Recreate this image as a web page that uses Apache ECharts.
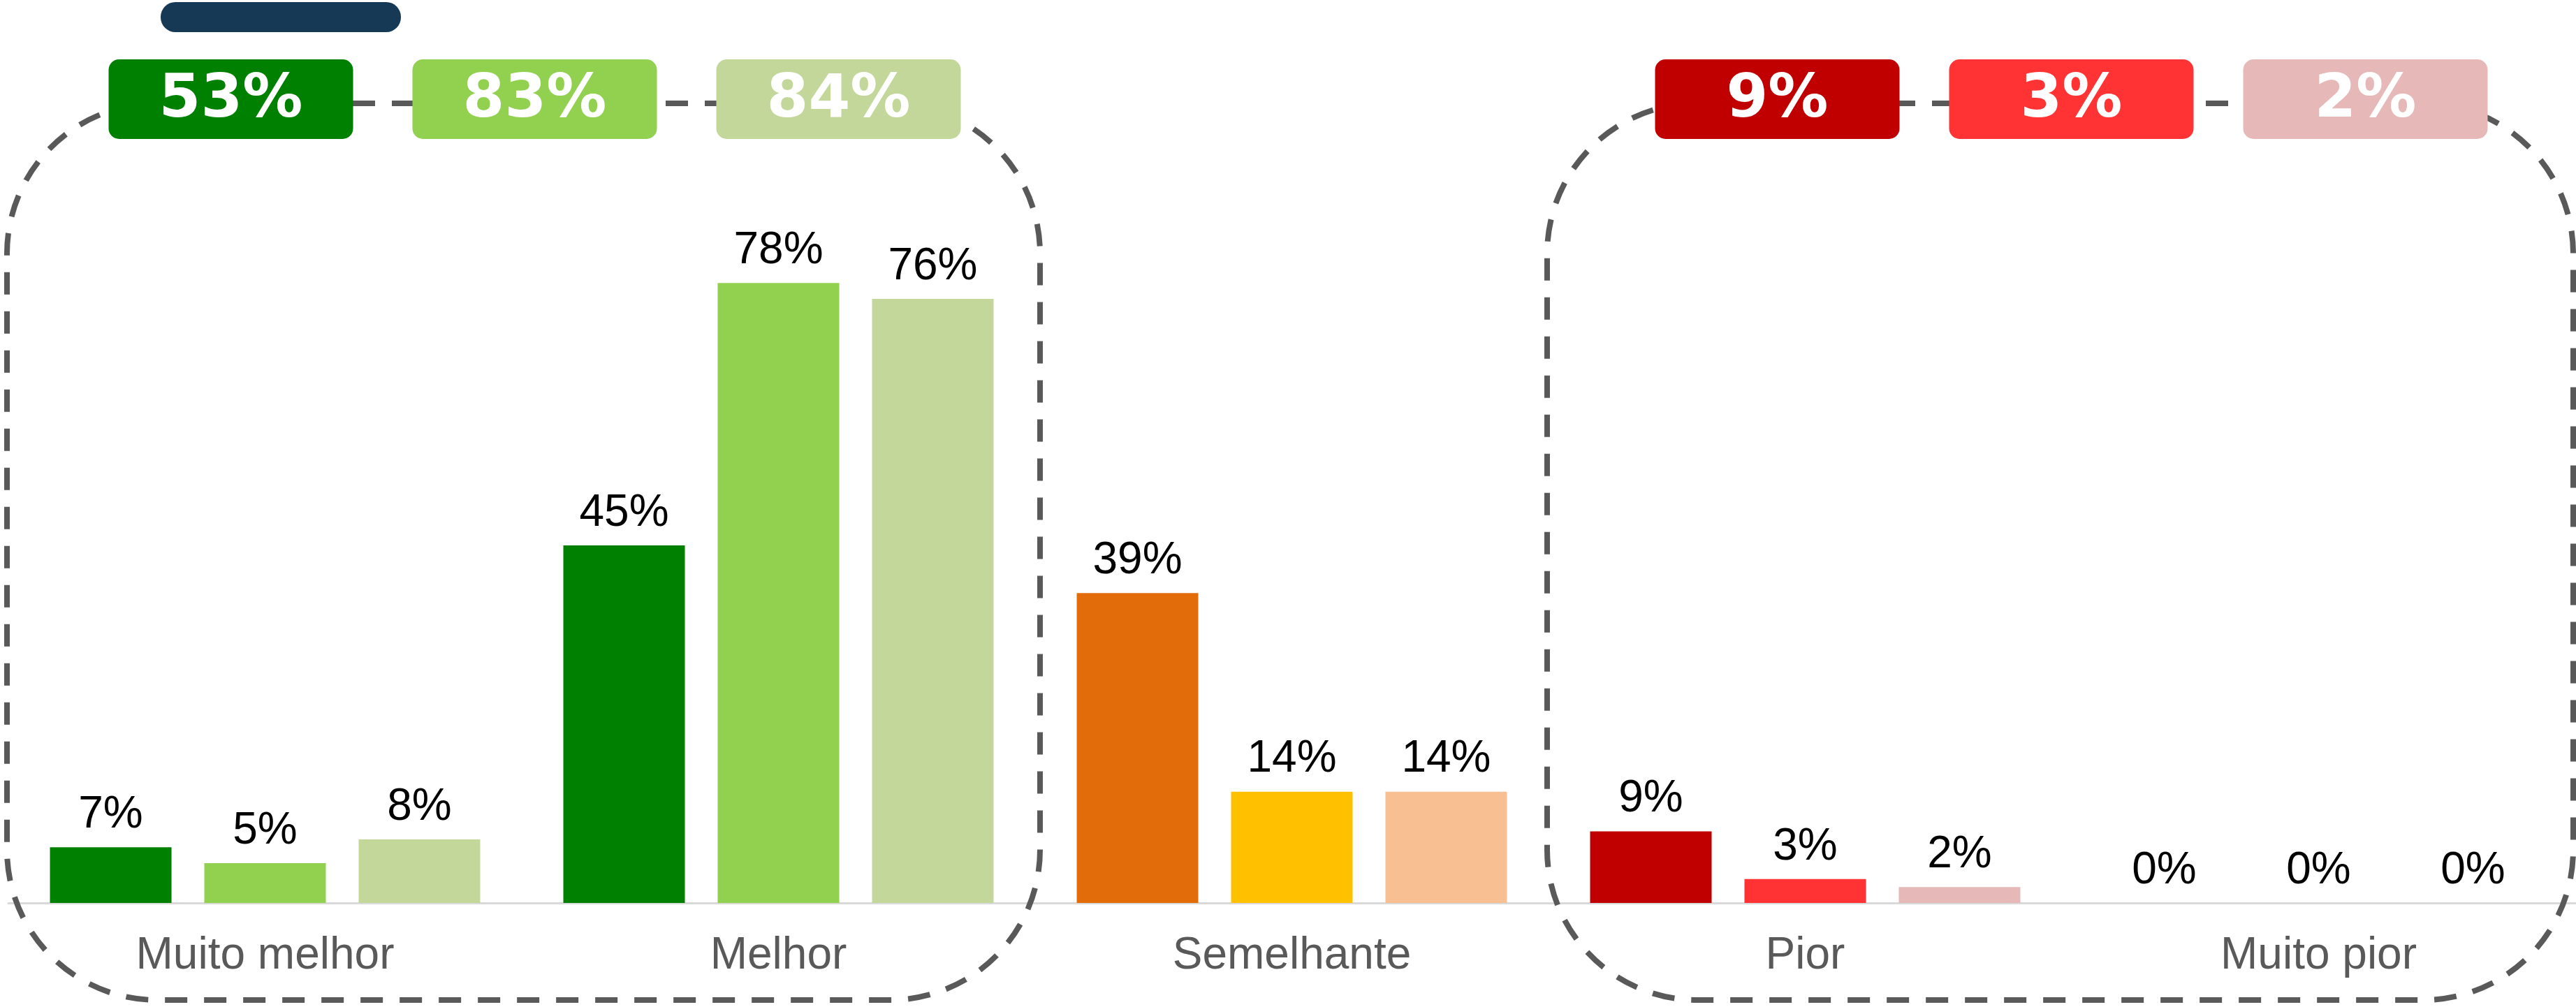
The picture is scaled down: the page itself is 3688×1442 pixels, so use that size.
<!DOCTYPE html>
<html>
<head>
<meta charset="utf-8">
<title>Comparação</title>
<script src="https://cdn.jsdelivr.net/npm/echarts@6/dist/echarts.min.js"></script>
<style>
  html, body { margin: 0; padding: 0; background: #ffffff; }
  #chart { width: 3688px; height: 1442px; }
</style>
</head>
<body>
<div id="chart"></div>
<script>
// categorias e valores (%)
const categories = ['Muito melhor', 'Melhor', 'Semelhante', 'Pior', 'Muito pior']
const serieA = [7, 45, 39, 9, 0]
const serieB = [5, 78, 14, 3, 0]
const serieC = [8, 76, 14, 2, 0]

// cores por categoria em cada série
const colorsA = ['#008000', '#008000', '#E36C0A', '#C00000', '#C00000']
const colorsB = ['#92D050', '#92D050', '#FFC000', '#FF3333', '#FF3333']
const colorsC = ['#C4D79B', '#C4D79B', '#F8BF92', '#E6B9B8', '#E6B9B8']

// totais das caixas no topo
const betterTotals = ['53%', '83%', '84%']
const worseTotals = ['9%', '3%', '2%']
const betterColors = ['#008000', '#92D050', '#C4D79B']
const worseColors = ['#C00000', '#FF3333', '#E6B9B8']

const FONT = '"Liberation Sans", Arial, sans-serif'
const DASH_COLOR = '#595959'

const chart = echarts.init(document.getElementById('chart'), null, { renderer: 'canvas' })

function toItems(values, colors) {
  return values.map((v, i) => ({ value: v, itemStyle: { color: colors[i] } }))
}

function barSeries(values, colors) {
  return {
    type: 'bar',
    data: toItems(values, colors),
    barWidth: 174,
    barGap: '27%',
    label: {
      show: true,
      position: 'top',
      distance: 14,
      formatter: '{c}%',
      color: '#000000',
      fontSize: 64,
      fontFamily: FONT
    }
  }
}

chart.setOption({
  animation: false,
  backgroundColor: '#ffffff',
  grid: { left: 12, right: 1, top: 155, bottom: 149 },
  xAxis: {
    type: 'category',
    data: categories,
    axisLine: { lineStyle: { color: '#D9D9D9', width: 3 } },
    axisTick: { show: false },
    axisLabel: { color: '#595959', fontSize: 64, fontFamily: FONT, margin: 44 }
  },
  yAxis: {
    type: 'value',
    min: 0,
    max: 100,
    show: false,
    splitLine: { show: false }
  },
  series: [
    barSeries(serieA, colorsA),
    barSeries(serieB, colorsB),
    barSeries(serieC, colorsC)
  ]
})

// moldura tracejada + caixas de totais, posicionadas a partir do eixo
function groupFrame(first, last, totals, colors, padLeft, padRight, spacing) {
  const p0 = chart.convertToPixel({ xAxisIndex: 0 }, categories[0])
  const p1 = chart.convertToPixel({ xAxisIndex: 0 }, categories[1])
  const step = p1 - p0
  const x1 = chart.convertToPixel({ xAxisIndex: 0 }, categories[first]) - step / 2 - padLeft
  const x2 = chart.convertToPixel({ xAxisIndex: 0 }, categories[last]) + step / 2 + padRight
  const top = 148
  const bottom = 1432
  const mid = (x1 + x2) / 2 + 16
  const els = [{
    type: 'rect',
    z: 10,
    shape: { x: x1, y: top, width: x2 - x1, height: bottom - top, r: 215 },
    style: { fill: 'none', stroke: DASH_COLOR, lineWidth: 8, lineDash: [32, 24] }
  }]
  totals.forEach((t, i) => {
    const cx = mid + (i - 1) * spacing
    els.push({
      type: 'rect',
      z: 20,
      shape: { x: cx - 175, y: 85, width: 350, height: 114, r: 15 },
      style: { fill: colors[i] }
    })
    els.push({
      type: 'text',
      z: 21,
      x: cx,
      y: 145,
      style: {
        text: t,
        fill: '#ffffff',
        fontSize: 86,
        fontWeight: 'bold',
        fontFamily: '"DejaVu Sans", sans-serif',
        align: 'center',
        verticalAlign: 'middle'
      }
    })
  })
  return els
}

const graphics = [].concat(
  groupFrame(0, 1, betterTotals, betterColors, 2, 7, 435),
  groupFrame(3, 4, worseTotals, worseColors, 2, -3, 421),
  [{
    type: 'rect',
    z: 20,
    shape: { x: 230, y: 3, width: 344, height: 43, r: 21 },
    style: { fill: '#163A56' }
  }]
)

chart.setOption({ graphic: { elements: graphics } })
</script>
</body>
</html>
